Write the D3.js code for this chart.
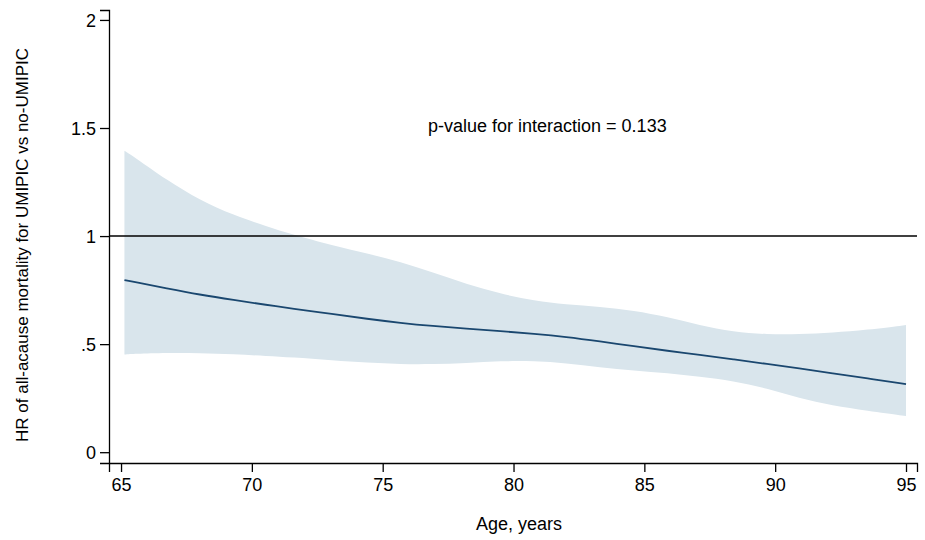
<!DOCTYPE html>
<html><head><meta charset="utf-8">
<script src="https://cdn.jsdelivr.net/npm/d3@7"></script>
<style>body{margin:0;background:#fff}svg{display:block}text{font-family:"Liberation Sans",Arial,sans-serif;fill:#000}</style>
</head><body><svg id="c" width="925" height="540"></svg>
<script>
const ages  = [65.13,65.5,66.75,68,69.3,70.6,71.5,73.1,74.4,75.7,76.9,78.2,79.5,80.8,82,83.3,84.6,85.9,87.1,88.4,89.7,90.9,92.2,93.5,95];
const hr    = [0.796,0.788,0.758,0.729,0.704,0.681,0.665,0.639,0.617,0.598,0.584,0.572,0.560,0.548,0.534,0.513,0.490,0.469,0.450,0.430,0.408,0.388,0.365,0.342,0.315];
const upper = [1.395,1.367,1.259,1.167,1.097,1.043,1.009,0.955,0.920,0.880,0.832,0.778,0.733,0.700,0.683,0.673,0.655,0.625,0.588,0.556,0.545,0.545,0.553,0.566,0.588];
const lower = [0.452,0.455,0.460,0.459,0.453,0.445,0.439,0.425,0.414,0.407,0.407,0.412,0.422,0.422,0.412,0.392,0.378,0.366,0.349,0.330,0.295,0.250,0.215,0.192,0.167];
const xTicks = [65,70,75,80,85,90,95];
const yTicks = [0,0.5,1,1.5,2];
const yTickLabels = ["0",".5","1","1.5","2"];
const refValue = 1;
const annotation = "p-value for interaction = 0.133";
const xTitle = "Age, years";
const yTitle = "HR of all-acause mortality for UMIPIC vs no-UMIPIC";

const svg = d3.select("#c");
const x = d3.scaleLinear().domain([64.54,95.42]).range([109,917]);
const y = d3.scaleLinear().domain([-0.05,2.046]).range([463,10]);

const data = ages.map((a,i)=>({a, m:hr[i], u:upper[i], l:lower[i]}));

svg.append("path").datum(data)
  .attr("fill","#d9e5ec")
  .attr("d", d3.area().curve(d3.curveBasis).x(d=>x(d.a)).y0(d=>y(d.l)).y1(d=>y(d.u)));

svg.append("path").datum(data)
  .attr("fill","none").attr("stroke","#1a476f").attr("stroke-width",1.8)
  .attr("d", d3.line().curve(d3.curveBasis).x(d=>x(d.a)).y(d=>y(d.m)));

svg.append("line").attr("x1",x.range()[0]).attr("x2",x.range()[1])
  .attr("y1",y(refValue)).attr("y2",y(refValue))
  .attr("stroke","#000").attr("stroke-width",1.5);

const xa = svg.append("g").attr("transform",`translate(0,${y.range()[0]})`)
  .call(d3.axisBottom(x).tickValues(xTicks).tickSize(9).tickPadding(6).tickFormat(d3.format("d")));
const ya = svg.append("g").attr("transform",`translate(${x.range()[0]},0)`)
  .call(d3.axisLeft(y).tickValues(yTicks).tickSize(9).tickPadding(4).tickFormat((d,i)=>yTickLabels[i]));
[xa,ya].forEach(g=>{
  g.selectAll("path,line").attr("stroke","#000").attr("stroke-width",1.3);
  g.selectAll("text").attr("font-size",18).attr("font-family","Liberation Sans, Arial, sans-serif");
});
ya.selectAll("text").attr("dy","0.36em");

svg.append("text").attr("x",428).attr("y",132).attr("font-size",18).text(annotation);
svg.append("text").attr("x",519).attr("y",530).attr("text-anchor","middle").attr("font-size",18).text(xTitle);
svg.append("text").attr("transform",`translate(28,245) rotate(-90)`).attr("text-anchor","middle").attr("font-size",17).text(yTitle);
</script></body></html>
